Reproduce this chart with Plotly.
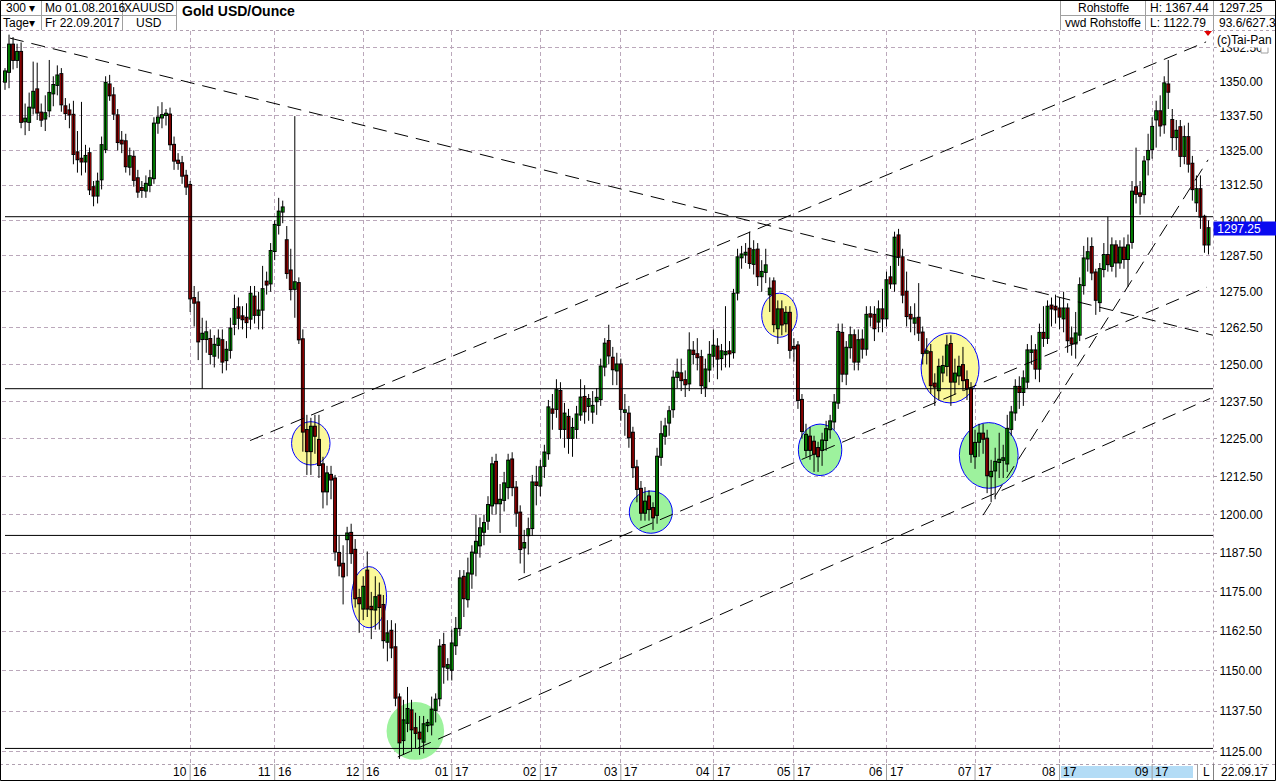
import math
import pandas as pd
import plotly.graph_objects as go

# ---------------- data ----------------
dates = pd.bdate_range("2016-08-01", "2017-09-22")

open_ = [
 1350.0,1353.6,1363.7,1358.0,1361.0,1335.5,1335.3,1340.5,1347.2,1338.7,
 1336.5,1339.5,1345.7,1348.8,1352.8,1341.0,1339.5,1337.9,1324.3,1322.0,
 1321.0,1324.0,1311.8,1308.8,1314.6,1325.4,1349.0,1345.0,1337.7,1328.5,
 1328.3,1319.1,1322.7,1315.0,1311.5,1310.6,1312.6,1315.0,1335.0,1336.9,
 1337.8,1338.0,1327.0,1321.3,1320.4,1315.9,1312.6,1272.8,1271.3,1258.7,
 1258.7,1258.7,1253.0,1256.7,1258.3,1251.5,1255.0,1263.9,1269.6,1266.5,
 1266.0,1265.7,1273.3,1267.0,1268.8,1278.5,1277.9,1289.2,1298.4,1303.1,
 1293.0,1282.4,1276.0,1278.0,1258.6,1227.9,1220.9,1229.0,1224.6,1216.5,
 1207.6,1213.0,1211.8,1187.5,1184.0,1192.0,1194.0,1188.5,1173.0,1169.7,
 1181.8,1170.2,1169.4,1173.8,1170.8,1159.2,1162.6,1157.4,1141.7,1128.6,
 1133.9,1137.7,1132.2,1130.8,1128.1,1133.2,1133.4,1137.9,1141.5,1158.1,
 1151.0,1150.4,1158.1,1163.5,1179.8,1172.7,1180.9,1187.6,1190.0,1194.4,
 1198.0,1203.0,1217.3,1203.7,1204.8,1209.0,1218.1,1208.8,1200.6,1189.3,
 1193.3,1195.6,1210.5,1209.5,1216.0,1220.2,1234.8,1235.0,1241.0,1228.3,
 1232.3,1225.3,1228.3,1233.1,1239.0,1236.0,1234.1,1237.6,1238.3,1249.3,
 1258.0,1252.3,1248.0,1250.0,1234.0,1233.4,1227.0,1215.5,1208.4,1200.6,
 1205.9,1202.1,1199.9,1219.0,1226.0,1230.4,1234.9,1245.8,1247.0,1244.7,
 1243.6,1254.7,1253.5,1252.5,1242.4,1248.3,1253.0,1256.1,1252.2,1253.5,
 1254.5,1254.2,1274.7,1287.0,1288.0,1290.0,1284.7,1289.7,1280.4,1281.9,
 1274.1,1278.6,1262.4,1268.9,1264.1,1267.7,1256.0,1256.5,1238.0,1221.3,
 1225.7,1224.0,1221.9,1221.3,1224.6,1228.2,1230.8,1237.1,1260.8,1246.9,
 1255.9,1260.0,1251.0,1258.5,1255.4,1267.2,1267.0,1264.7,1268.9,1265.8,
 1280.0,1277.9,1294.7,1287.0,1275.0,1267.0,1264.3,1266.0,1260.9,1254.0,
 1254.2,1243.5,1241.3,1247.3,1249.5,1257.0,1244.2,1246.3,1249.8,1244.7,
 1241.9,1219.2,1224.0,1226.7,1225.0,1212.6,1214.5,1217.3,1218.0,1216.8,
 1228.3,1233.8,1242.4,1240.7,1244.2,1254.3,1254.8,1248.6,1260.8,1259.1,
 1270.2,1269.8,1269.2,1265.8,1269.2,1258.9,1257.2,1260.2,1277.3,1286.6,
 1290.6,1281.7,1271.4,1282.9,1287.8,1284.0,1291.2,1285.2,1290.4,1286.4,
 1292.4,1311.8,1309.6,1309.3,1321.8,1325.5,1336.2,1339.2,1334.4,1349.0,
 1336.0,1329.8,1333.4,1323.0,1329.8,1320.2,1306.4,1311.1,1301.3,1291.5]

high = [
 1355.0,1367.4,1366.5,1364.0,1364.5,1342.0,1346.0,1357.4,1357.0,1342.0,
 1345.0,1358.0,1352.0,1356.0,1355.0,1344.0,1342.0,1343.0,1332.0,1342.6,
 1327.0,1326.0,1314.0,1317.0,1330.0,1352.0,1352.5,1348.0,1340.0,1332.0,
 1331.0,1326.0,1325.0,1318.0,1314.0,1316.0,1318.0,1337.0,1341.0,1342.5,
 1340.0,1340.5,1330.0,1324.0,1323.0,1318.0,1314.0,1277.0,1275.0,1266.0,
 1265.0,1262.0,1260.0,1262.0,1262.0,1258.0,1266.0,1274.0,1273.0,1270.0,
 1271.0,1277.0,1277.0,1275.0,1284.0,1282.0,1292.0,1300.0,1308.0,1307.0,
 1298.0,1290.0,1337.4,1280.0,1262.0,1233.0,1232.0,1233.0,1233.0,1219.0,
 1216.0,1216.0,1213.0,1193.0,1190.0,1196.0,1197.0,1192.0,1176.0,1180.0,
 1188.0,1175.0,1180.0,1178.0,1174.0,1166.0,1166.0,1165.0,1143.0,1141.0,
 1145.0,1141.0,1137.0,1136.0,1136.0,1135.0,1142.0,1143.0,1160.0,1162.0,
 1154.0,1163.0,1167.0,1182.0,1182.0,1186.0,1190.0,1200.0,1199.0,1200.0,
 1206.0,1219.0,1220.0,1210.0,1214.0,1220.0,1220.5,1211.0,1203.0,1195.0,
 1199.0,1213.0,1216.0,1218.0,1223.0,1238.0,1240.0,1245.0,1244.0,1237.0,
 1235.0,1232.0,1236.0,1245.0,1243.0,1240.0,1241.0,1242.0,1252.0,1259.0,
 1263.6,1256.0,1254.0,1252.0,1240.0,1236.0,1229.0,1218.0,1211.0,1209.0,
 1208.0,1204.0,1222.0,1231.0,1232.0,1236.0,1248.0,1252.0,1252.0,1248.0,
 1261.0,1258.0,1259.0,1255.0,1252.0,1258.0,1262.0,1259.0,1257.0,1270.0,
 1258.0,1276.0,1290.0,1291.0,1292.0,1296.0,1293.0,1292.0,1286.0,1290.0,
 1280.0,1280.0,1272.0,1272.0,1270.0,1270.0,1259.0,1258.0,1240.0,1230.0,
 1229.0,1226.0,1224.0,1227.0,1231.0,1233.0,1240.0,1264.0,1264.0,1258.0,
 1263.0,1262.0,1262.0,1262.0,1270.0,1270.0,1270.0,1272.0,1276.0,1282.0,
 1284.0,1296.0,1297.0,1290.0,1282.0,1270.0,1271.0,1278.0,1263.0,1259.0,
 1257.0,1247.0,1252.0,1253.0,1260.0,1260.0,1252.0,1253.0,1256.0,1248.0,
 1244.0,1228.0,1230.0,1230.0,1228.0,1218.0,1222.0,1227.0,1223.0,1233.0,
 1236.0,1245.0,1246.0,1248.0,1257.0,1260.0,1257.0,1264.0,1270.0,1272.0,
 1273.0,1274.0,1273.0,1275.0,1271.0,1263.0,1268.0,1280.0,1291.0,1294.0,
 1294.0,1283.0,1285.0,1292.0,1301.3,1294.0,1293.0,1293.0,1294.0,1295.0,
 1314.0,1326.0,1314.0,1323.0,1331.0,1337.0,1343.0,1345.0,1352.0,1358.0,
 1340.0,1336.0,1336.0,1334.0,1335.0,1323.0,1316.0,1316.0,1302.0,1300.0]

low = [
 1347.0,1347.6,1354.5,1355.0,1333.0,1330.5,1332.0,1338.0,1336.0,1333.5,
 1332.0,1337.0,1341.0,1345.0,1339.0,1336.0,1333.0,1320.0,1317.0,1316.0,
 1317.0,1309.0,1305.0,1306.0,1311.0,1324.0,1343.0,1336.0,1325.0,1324.0,
 1317.0,1316.0,1312.0,1308.0,1308.0,1308.0,1310.0,1313.0,1331.0,1333.0,
 1334.0,1325.0,1318.0,1318.0,1313.0,1309.0,1268.0,1263.0,1251.5,1241.8,
 1254.0,1250.0,1249.0,1252.0,1247.0,1248.0,1252.0,1260.0,1262.0,1262.0,
 1259.0,1262.0,1264.0,1262.0,1262.0,1274.0,1275.0,1286.0,1295.0,1299.0,
 1279.5,1272.0,1266.0,1257.0,1220.7,1213.0,1213.0,1220.0,1212.0,1202.0,
 1203.0,1205.0,1185.0,1180.0,1171.0,1180.0,1184.0,1170.0,1162.0,1166.0,
 1167.0,1160.0,1163.0,1163.0,1157.0,1153.0,1154.0,1139.0,1122.8,1124.0,
 1131.0,1125.0,1126.0,1124.0,1124.5,1131.0,1130.0,1134.0,1139.0,1146.0,
 1147.0,1147.0,1155.0,1161.0,1167.0,1170.0,1176.0,1180.0,1186.0,1190.0,
 1195.0,1200.0,1200.0,1194.0,1201.0,1205.0,1206.0,1196.0,1184.1,1181.0,
 1187.0,1193.0,1203.0,1206.0,1212.0,1218.0,1228.0,1232.0,1225.0,1222.0,
 1220.0,1219.0,1225.0,1231.0,1230.0,1231.0,1230.0,1233.0,1236.0,1246.0,
 1250.0,1243.0,1243.0,1231.0,1226.0,1222.0,1212.0,1204.0,1198.0,1198.0,
 1198.0,1195.0,1197.0,1216.0,1223.0,1226.0,1232.0,1242.0,1241.0,1239.0,
 1241.0,1250.0,1248.0,1240.0,1239.0,1244.0,1249.0,1245.0,1248.0,1249.0,
 1249.0,1252.0,1272.0,1283.0,1285.0,1283.0,1281.0,1277.0,1275.0,1278.0,
 1268.0,1261.0,1257.0,1260.0,1261.0,1252.0,1251.0,1235.0,1225.0,1219.0,
 1218.0,1214.0,1214.0,1216.0,1221.0,1225.0,1228.0,1235.0,1244.0,1243.0,
 1252.0,1248.0,1248.0,1252.0,1253.0,1263.0,1258.0,1261.0,1261.0,1263.0,
 1276.0,1275.0,1284.0,1271.0,1263.0,1261.0,1260.0,1258.0,1250.0,1250.0,
 1240.0,1236.0,1238.0,1244.0,1246.0,1236.0,1240.0,1243.0,1241.0,1238.0,
 1217.0,1215.0,1219.0,1220.0,1207.0,1204.0,1205.0,1212.0,1212.0,1214.0,
 1226.0,1231.0,1235.0,1236.0,1242.0,1250.0,1245.0,1244.0,1256.0,1257.0,
 1263.0,1264.0,1262.0,1261.0,1254.0,1253.0,1252.0,1258.0,1274.0,1282.0,
 1279.0,1267.0,1268.0,1280.0,1282.0,1282.0,1280.0,1283.0,1283.0,1276.7,
 1290.0,1306.0,1302.0,1306.0,1316.0,1322.0,1326.0,1330.0,1331.0,1340.0,
 1325.0,1325.0,1319.0,1320.0,1317.0,1307.0,1303.0,1297.0,1288.6,1288.0]

close = [
 1353.8,1363.7,1358.0,1361.0,1335.3,1336.5,1340.5,1346.3,1338.7,1336.1,
 1338.5,1345.9,1348.8,1352.3,1341.7,1338.5,1338.0,1323.7,1321.8,1321.0,
 1323.0,1311.0,1308.8,1313.8,1326.9,1349.6,1345.0,1338.3,1328.0,1327.5,
 1319.3,1322.9,1314.4,1310.2,1310.8,1313.0,1315.0,1334.7,1336.9,1337.8,
 1338.3,1327.2,1321.3,1320.5,1315.9,1312.0,1272.7,1271.2,1257.9,1260.5,
 1261.0,1253.6,1256.7,1258.8,1251.0,1255.0,1262.3,1269.0,1266.0,1265.5,
 1264.5,1274.3,1267.0,1268.5,1275.9,1277.5,1289.2,1298.4,1303.1,1304.6,
 1281.5,1275.9,1278.3,1258.6,1227.4,1220.9,1229.0,1226.0,1216.3,1207.6,
 1213.5,1211.5,1188.0,1183.5,1180.0,1193.8,1187.5,1173.0,1171.4,1176.6,
 1169.7,1169.5,1173.3,1170.2,1159.7,1161.8,1157.4,1141.7,1127.9,1134.6,
 1138.1,1131.9,1130.8,1129.1,1133.4,1133.8,1137.9,1141.0,1157.6,1151.4,
 1151.8,1158.6,1163.2,1179.3,1173.0,1180.9,1187.6,1191.1,1195.5,1197.2,
 1203.1,1216.5,1203.7,1204.8,1210.2,1217.7,1209.0,1200.6,1188.8,1190.7,
 1195.2,1210.5,1209.7,1215.5,1220.4,1235.5,1233.7,1241.3,1228.3,1233.4,
 1225.3,1228.6,1233.1,1238.8,1234.2,1238.3,1236.0,1238.7,1249.3,1257.1,
 1253.1,1248.4,1250.0,1235.0,1234.5,1225.5,1215.6,1208.4,1200.6,1204.2,
 1201.8,1199.1,1219.0,1226.5,1229.1,1234.2,1245.5,1247.2,1244.7,1243.3,
 1254.8,1253.6,1252.5,1243.0,1248.3,1253.3,1256.4,1252.0,1254.5,1254.3,
 1253.8,1274.3,1287.0,1288.0,1288.6,1285.0,1289.5,1280.4,1281.9,1284.2,
 1276.1,1263.8,1268.9,1263.7,1267.7,1255.0,1255.5,1238.0,1227.6,1226.3,
 1221.3,1220.0,1219.2,1224.4,1228.2,1230.8,1237.1,1261.1,1246.9,1255.7,
 1260.0,1251.0,1258.3,1255.4,1267.0,1266.4,1262.4,1268.9,1265.8,1279.0,
 1277.9,1293.9,1287.2,1274.0,1266.6,1265.8,1265.8,1260.9,1253.9,1254.5,
 1243.0,1242.5,1249.2,1249.5,1256.5,1244.2,1246.9,1249.2,1244.7,1241.9,
 1220.0,1223.6,1226.7,1225.0,1212.9,1214.0,1217.3,1218.0,1218.5,1228.3,
 1233.8,1242.4,1240.7,1245.3,1254.8,1254.8,1248.6,1260.8,1259.1,1269.8,
 1269.2,1268.9,1266.4,1269.2,1258.3,1257.2,1260.6,1277.3,1286.6,1288.8,
 1281.7,1272.2,1282.9,1287.8,1284.6,1291.2,1285.2,1290.4,1286.4,1291.2,
 1310.2,1309.4,1308.7,1321.0,1324.8,1333.5,1339.2,1334.0,1349.4,1346.3,
 1329.8,1332.1,1323.0,1329.8,1320.2,1311.1,1311.1,1301.3,1291.5,1297.25]

# y-axis ticks
y_ticks = [1125.0, 1137.5, 1150.0, 1162.5, 1175.0, 1187.5, 1200.0, 1212.5, 1225.0,
           1237.5, 1250.0, 1262.5, 1275.0, 1287.5, 1300.0, 1312.5, 1325.0, 1337.5,
           1350.0, 1362.5]
y_tick_text = [f"{v:.2f}" for v in y_ticks]

# horizontal support / resistance lines (price)
support_levels = [1301.3, 1241.8, 1193.2, 1126.0]

# trend lines: (bar0, price0, bar1, price1)
trend_lines = [
    (1.24, 1366.1, 300.1, 1260.0),
    (60.9, 1224.4, 298.4, 1364.7),
    (127.5, 1178.8, 298.6, 1276.6),
    (97.6, 1123.4, 299.4, 1238.5),
    (243.0, 1199.8, 298.9, 1321.6),
]

# highlighted zones: (bar0, bar1, price0, price1, kind)
zones = [
    (71.2, 80.75, 1216.3, 1230.7, "yellow"),
    (86.1, 94.8, 1163.6, 1183.1, "yellow"),
    (94.8, 109.1, 1122.5, 1140.3, "green_plain"),
    (155.1, 165.8, 1193.9, 1207.7, "green"),
    (188.0, 196.8, 1259.3, 1274.5, "yellow"),
    (197.1, 207.9, 1212.8, 1229.9, "green"),
    (227.6, 242.0, 1237.0, 1260.8, "yellow"),
    (237.1, 251.7, 1208.6, 1230.4, "green"),
]

# ---------------- geometry / style ----------------
W, H = 1276, 781
ML, MR, MT, MB = 2, 63, 31, 17
PW = W - ML - MR
PH = H - MT - MB
X_RANGE = [-0.745, 300.12]
Y_RANGE = [math.log10(1121.24), math.log10(1368.75)]
GRID_SHIFT = 1        # Tai-Pan draws the month line one bar after the month start
OUTLINE_W = 0.98      # body width incl. black outline (in bars)
FILL_W = 0.5          # coloured interior width (in bars)
EDGE = 0.35           # outline thickness at top/bottom of body (price units, ~1px)

def fx(px):
    return (px - ML) / PW

def fy(py):
    return (H - MB - py) / PH

FONT = "Liberation Sans, Arial, sans-serif"
GRID = "#bba8bb"
UP, DOWN = "#00f000", "#ff0000"

bars = list(range(len(dates)))

# month boundaries (labels shown from Oct 2016 on, as in the reference)
month_pos, month_lbl = [], []
for i in range(1, len(dates)):
    if dates[i].month != dates[i - 1].month:
        if dates[i] >= pd.Timestamp("2016-10-01"):
            month_pos.append(i + GRID_SHIFT)
            month_lbl.append((f"{dates[i].month:02d}", f"{dates[i].year % 100:02d}"))

fig = go.Figure()

# wicks
wx, wy = [], []
for i in bars:
    wx += [i, i, None]
    wy += [low[i], high[i], None]
fig.add_trace(go.Scatter(x=wx, y=wy, mode="lines", line=dict(color="black", width=1),
                         hoverinfo="skip", showlegend=False))

# bodies: black outline block + coloured interior
body_base = [min(o, c) for o, c in zip(open_, close)]
body_len = [abs(c - o) for o, c in zip(open_, close)]
body_col = [UP if c >= o else DOWN for o, c in zip(open_, close)]
fig.add_trace(go.Bar(x=bars, y=[l + 2 * EDGE for l in body_len],
                     base=[b - EDGE for b in body_base], width=OUTLINE_W,
                     marker=dict(color="black", line=dict(width=0)),
                     hoverinfo="skip", showlegend=False))
fig.add_trace(go.Bar(x=bars, y=body_len, base=body_base, width=FILL_W,
                     marker=dict(color=body_col, line=dict(width=0)),
                     hoverinfo="skip", showlegend=False))

for lv in support_levels:
    fig.add_trace(go.Scatter(x=[0, X_RANGE[1] + 1], y=[lv, lv], mode="lines",
                             line=dict(color="black", width=1),
                             hoverinfo="skip", showlegend=False))

for b0, p0, b1, p1 in trend_lines:
    fig.add_trace(go.Scatter(x=[b0, b1], y=[p0, p1], mode="lines",
                             line=dict(color="black", width=1, dash="14px,8px"),
                             hoverinfo="skip", showlegend=False))

shapes = []
for b0, b1, p0, p1, kind in zones:
    fill = "#fbf99a" if kind == "yellow" else "#9df29d"
    line = dict(color="#0000ff", width=1) if kind != "green_plain" else dict(width=0)
    shapes.append(dict(type="circle", xref="x", yref="y", x0=b0, x1=b1, y0=p0, y1=p1,
                       fillcolor=fill, line=line, layer="between"))

def pline(x0, y0, x1, y1, color="#a0a0a0", width=1, dash="solid"):
    shapes.append(dict(type="line", xref="paper", yref="paper",
                       x0=fx(x0), y0=fy(y0), x1=fx(x1), y1=fy(y1),
                       line=dict(color=color, width=width, dash=dash), layer="above"))

# plot frame (dotted right axis line and bottom line)
pline(1213.5, 30.5, 1213.5, 764, color="#b0a0b0", dash="dot")
pline(0, 764.5, 1276, 764.5, color="#b0a0b0", dash="dot")
pline(0, 30.5, 1276, 30.5, color="#b0a0b0", dash="dot")

# header box lines
pline(0, 15.5, 176, 15.5)
pline(1060, 15.5, 1276, 15.5)
for xv in (41.5, 122.5, 176.5, 1060.5, 1145.5, 1213.5):
    pline(xv, 0, xv, 30)

# month separators through the date strip
for mp in month_pos:
    shapes.append(dict(type="line", xref="x", yref="paper", x0=mp, x1=mp,
                       y0=fy(764), y1=fy(781), line=dict(color="#a0a0a0", width=1)))
pline(1213.5, 764, 1213.5, 781, color="#808080")
pline(1197.5, 764, 1197.5, 781, color="#a0a0a0")

# scroll indicator strip
shapes.append(dict(type="rect", xref="paper", yref="paper", x0=fx(1061), x1=fx(1193),
                   y0=fy(778), y1=fy(766), fillcolor="#b3dcf6", line=dict(width=0),
                   layer="below"))

# small red marker and icon
shapes.append(dict(type="path", xref="paper", yref="paper",
                   path=f"M {fx(1204)},{fy(31)} L {fx(1212)},{fy(31)} L {fx(1208)},{fy(36)} Z",
                   fillcolor="#e00000", line=dict(width=0)))
shapes.append(dict(type="rect", xref="paper", yref="paper", x0=fx(1261), x1=fx(1268),
                   y0=fy(53), y1=fy(46), fillcolor="white", line=dict(color="#a0a0a0", width=1)))

# outer frame
shapes.append(dict(type="rect", xref="paper", yref="paper", x0=fx(0.5), x1=fx(1275.5),
                   y0=fy(780.5), y1=fy(0.5), line=dict(color="black", width=1),
                   fillcolor="rgba(0,0,0,0)"))

annotations = []

def txt(s, px, py, anchor="left", size=12, bold=False, color="black", bg=None):
    a = dict(text=f"<b>{s}</b>" if bold else s, xref="paper", yref="paper",
             x=fx(px), y=fy(py), xanchor=anchor, yanchor="middle", showarrow=False,
             font=dict(family=FONT, size=size, color=color))
    if bg:
        a["bgcolor"] = bg
        a["borderpad"] = 0
    annotations.append(a)

# header
txt("300 \u25be", 4, 8)
txt("Tage\u25be", 1, 23)
txt("Mo 01.08.2016", 43, 8)
txt("Fr 22.09.2017", 43, 23)
txt("XAUUSD", 149, 8, anchor="center")
txt("USD", 149, 23, anchor="center")
txt("Gold USD/Ounce", 180, 11, size=14, bold=True)
txt("Rohstoffe", 1103, 8, anchor="center")
txt("vwd Rohstoffe", 1103, 23, anchor="center")
txt("H: 1367.44", 1148, 8)
txt("L: 1122.79", 1148, 23)
txt("1297.25", 1217, 8)
txt("93.6/627.3", 1217, 23)
txt("(c)Tai-Pan", 1216, 40, bg="white")

# date strip labels
for mp, (mm, yy) in zip(month_pos, month_lbl):
    annotations.append(dict(text=mm, xref="x", yref="paper", x=mp - 0.3, y=fy(771.5),
                            xanchor="right", yanchor="middle", showarrow=False,
                            font=dict(family=FONT, size=12, color="black")))
    annotations.append(dict(text=yy, xref="x", yref="paper", x=mp + 0.3, y=fy(771.5),
                            xanchor="left", yanchor="middle", showarrow=False,
                            font=dict(family=FONT, size=12, color="black")))
txt("L", 1201, 771.5)
txt(dates[-1].strftime("%d.%m.%y"), 1219, 771.5)

# last price marker
annotations.append(dict(text="\u00a0" + f"{close[-1]:.2f}",
                        xref="paper", yref="y", x=1.0, y=math.log10(close[-1]),
                        xanchor="left", yanchor="middle", showarrow=False,
                        width=62, height=13, align="left", borderpad=0,
                        bgcolor="#0a0af0", font=dict(family=FONT, size=12, color="white")))

fig.update_layout(
    width=W, height=H,
    margin=dict(l=ML, r=MR, t=MT, b=MB, pad=0),
    paper_bgcolor="white", plot_bgcolor="white",
    showlegend=False, dragmode=False, hovermode=False,
    barmode="overlay",
    shapes=shapes, annotations=annotations,
    font=dict(family=FONT, size=12, color="black"),
    xaxis=dict(range=X_RANGE, tickvals=month_pos,
               showticklabels=False, ticks="", showgrid=True, gridcolor=GRID,
               griddash="4px,3px", gridwidth=1, zeroline=False, showline=False,
               automargin=False, fixedrange=True),
    yaxis=dict(type="log", range=Y_RANGE, side="right", tickvals=y_ticks,
               ticktext=y_tick_text, ticks="outside", ticklen=3, tickcolor="#a898a8",
               showgrid=True, gridcolor=GRID, griddash="4px,3px", gridwidth=1,
               zeroline=False, showline=False, automargin=False, fixedrange=True,
               tickfont=dict(family=FONT, size=12, color="black")),
)

fig.write_html("out.html", config={"displayModeBar": False, "staticPlot": True},
               post_script="document.body.style.margin='0px';"
                           "document.body.style.overflow='hidden';")
